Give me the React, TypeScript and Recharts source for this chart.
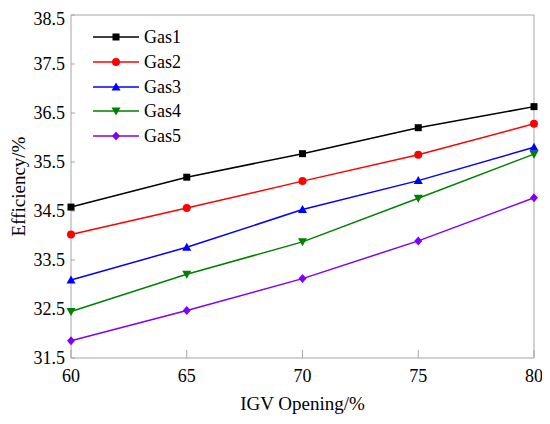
import { LineChart, Line, XAxis, YAxis, ReferenceLine } from "recharts";

const openings = [60, 65, 70, 75, 80];
const gas1 = [34.58, 35.19, 35.67, 36.2, 36.63];
const gas2 = [34.02, 34.56, 35.11, 35.65, 36.28];
const gas3 = [33.09, 33.76, 34.53, 35.12, 35.8];
const gas4 = [32.45, 33.21, 33.87, 34.76, 35.66];
const gas5 = [31.85, 32.47, 33.12, 33.89, 34.77];
const yTicks = [31.5, 32.5, 33.5, 34.5, 35.5, 36.5, 37.5, 38.5];

const series = [
  { key: "Gas1", values: gas1, color: "#000000", shape: "square" },
  { key: "Gas2", values: gas2, color: "#ff0000", shape: "circle" },
  { key: "Gas3", values: gas3, color: "#0000ff", shape: "up" },
  { key: "Gas4", values: gas4, color: "#008000", shape: "down" },
  { key: "Gas5", values: gas5, color: "#8000ff", shape: "diamond" },
];

const data = openings.map((x, i) => {
  const row: any = { x };
  series.forEach((s) => (row[s.key] = s.values[i]));
  return row;
});

const font = "Liberation Serif";
const axisColor = "#a6a6a6";

const Marker = ({ shape, cx, cy, color }: any) => {
  if (shape === "square")
    return <rect x={cx - 3.5} y={cy - 3.5} width={7} height={7} fill={color} />;
  if (shape === "circle") return <circle cx={cx} cy={cy} r={4} fill={color} />;
  if (shape === "up")
    return <polygon points={`${cx},${cy - 4.5} ${cx + 4.5},${cy + 3.5} ${cx - 4.5},${cy + 3.5}`} fill={color} />;
  if (shape === "down")
    return <polygon points={`${cx},${cy + 4.5} ${cx + 4.5},${cy - 3.5} ${cx - 4.5},${cy - 3.5}`} fill={color} />;
  return <polygon points={`${cx},${cy - 4.5} ${cx + 4},${cy} ${cx},${cy + 4.5} ${cx - 4},${cy}`} fill={color} />;
};

// legend drawn as an overlay so it takes no room from the plot
const LegendBox = () => (
  <div style={{ position: "absolute", left: 85, top: 17, fontFamily: font, fontSize: 18, lineHeight: 1 }}>
    {series.map((s) => (
      <div key={s.key} style={{ display: "flex", alignItems: "center", height: 24.7 }}>
        <svg width={46} height={12}>
          <line x1={0} y1={6} x2={46} y2={6} stroke={s.color} strokeWidth={1.5} />
          <Marker shape={s.shape} cx={23} cy={6} color={s.color} />
        </svg>
        <span style={{ marginLeft: 5, color: "#000" }}>{s.key}</span>
      </div>
    ))}
  </div>
);

const YTitle = ({ viewBox }: any) => {
  const cx = 10;
  const cy = viewBox.y + viewBox.height / 2;
  return (
    <text
      x={cx}
      y={cy}
      transform={`rotate(-90, ${cx}, ${cy})`}
      textAnchor="middle"
      dominantBaseline="central"
      fontFamily={font}
      fontSize={19}
      fill="#000"
    >
      Efficiency/%
    </text>
  );
};

export default function App() {
  return (
    <div style={{ position: "relative", width: 542, height: 416, fontFamily: font }}>
      <LineChart
        width={542}
        height={416}
        data={data}
        margin={{ top: 7, right: 16, left: 0, bottom: 0 }}
        style={{ fontFamily: font }}
      >
        <XAxis
          dataKey="x"
          type="number"
          domain={[60, 80]}
          ticks={openings}
          height={66}
          stroke={axisColor}
          tickSize={-8}
          tickMargin={19}
          tick={{ fill: "#000", fontSize: 18, fontFamily: font }}
          label={{
            value: "IGV Opening/%",
            position: "insideBottom",
            offset: 14,
            fill: "#000",
            fontSize: 19,
            fontFamily: font,
          }}
        />
        <YAxis
          type="number"
          domain={[31.5, 38.5]}
          ticks={yTicks}
          width={63}
          stroke={axisColor}
          tickSize={-4}
          tickMargin={10}
          tickFormatter={(v: number) => v.toFixed(1)}
          tick={{ fill: "#000", fontSize: 18, fontFamily: font }}
          label={<YTitle />}
        />
        <ReferenceLine y={38.5} stroke={axisColor} />
        <ReferenceLine x={80} stroke={axisColor} />
        {series.map((s) => (
          <Line
            key={s.key}
            dataKey={s.key}
            stroke={s.color}
            strokeWidth={1.5}
            isAnimationActive={false}
            dot={(p: any) => (
              <Marker key={`${s.key}-${p.index}`} shape={s.shape} cx={p.cx} cy={p.cy} color={s.color} />
            )}
            activeDot={false}
          />
        ))}
      </LineChart>
      <LegendBox />
    </div>
  );
}
